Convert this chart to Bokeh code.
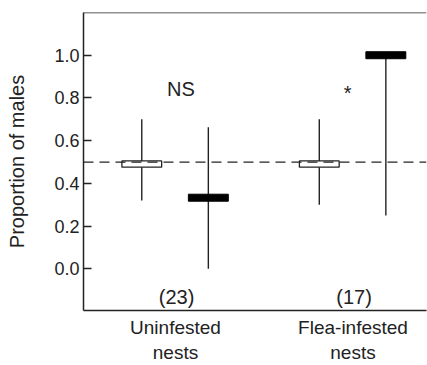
from bokeh.plotting import figure
from bokeh.models import FixedTicker, Span, Range1d, NumeralTickFormatter
from bokeh.core.properties import value
from bokeh.embed import file_html
from bokeh.resources import INLINE

# ---- data ----
groups = ["Uninfested\nnests", "Flea-infested\nnests"]
group_pos = [1, 2]
sample_sizes = ["(23)", "(17)"]
significance = ["NS", "*"]
# expected proportion (open box) with range
exp_box_lo = [0.476, 0.476]
exp_box_hi = [0.505, 0.505]
exp_lo = [0.32, 0.30]
exp_hi = [0.70, 0.70]
# observed proportion (black bar) with range
obs_mid = [0.333, 1.0]
obs_lo = [0.0, 0.25]
obs_hi = [0.663, 1.0]
y_ticks = [0.0, 0.2, 0.4, 0.6, 0.8, 1.0]
ref_line = 0.5

FONT = "Liberation Sans"
INK = "#222222"

off_exp, off_obs = -0.19, 0.185
xe = [g + off_exp for g in group_pos]
xo = [g + off_obs for g in group_pos]

p = figure(width=427, height=365, output_backend="svg", toolbar_location=None,
           x_range=Range1d(0.4817, 2.414), y_range=Range1d(-0.195, 1.2),
           min_border_left=83, min_border_top=12, min_border_right=1, min_border_bottom=55)
p.outline_line_color = None
p.grid.visible = False
p.background_fill_color = "white"

# axes
p.yaxis.ticker = FixedTicker(ticks=y_ticks)
p.yaxis.formatter = NumeralTickFormatter(format="0.0")
p.yaxis.major_tick_in = 8
p.yaxis.major_tick_out = 0
p.yaxis.minor_tick_line_color = None
p.yaxis.major_label_standoff = 4
p.yaxis.major_label_text_font = FONT
p.yaxis.major_label_text_font_size = "18px"
p.yaxis.major_label_text_color = INK
p.yaxis.major_tick_line_color = INK
p.yaxis.major_tick_line_width = 1.3
p.yaxis.axis_label = "Proportion of males"
p.yaxis.axis_label_text_font = FONT
p.yaxis.axis_label_text_font_size = "20px"
p.yaxis.axis_label_text_font_style = "normal"
p.yaxis.axis_label_text_color = INK
p.yaxis.axis_label_standoff = 23

p.xaxis.ticker = FixedTicker(ticks=group_pos)
p.xaxis.major_label_overrides = {g: lab for g, lab in zip(group_pos, groups)}
p.xaxis.major_tick_line_color = None
p.xaxis.minor_tick_line_color = None
p.xaxis.major_label_standoff = 0
p.xaxis.major_label_text_font = FONT
p.xaxis.major_label_text_font_size = "19px"
p.xaxis.major_label_text_color = INK

for ax in (p.xaxis, p.yaxis):
    ax.axis_line_color = INK
    ax.axis_line_width = 1.5

# top frame line
p.add_layout(Span(location=1.2, dimension="width", line_color=INK, line_width=1.5))
# reference line
p.add_layout(Span(location=ref_line, dimension="width", line_color=INK,
                  line_width=1.3, line_dash="10 6"))

# whiskers
p.segment(x0=xe, y0=exp_lo, x1=xe, y1=exp_hi, line_color=INK, line_width=1.4)
p.segment(x0=xo, y0=obs_lo, x1=xo, y1=obs_hi, line_color=INK, line_width=1.4)

# open boxes
p.quad(left=[x - 0.112 for x in xe], right=[x + 0.112 for x in xe],
       bottom=exp_box_lo, top=exp_box_hi,
       fill_color="white", line_color=INK, line_width=1.3)
# black bars
p.rect(x=xo, y=obs_mid, width=0.225, height=7, height_units="screen",
       fill_color="black", line_color="black")

# texts
p.text(x=[g + 0.006 for g in group_pos], y=[-0.13, -0.13], text=sample_sizes,
       text_align="center", text_baseline="middle",
       text_font=value(FONT), text_font_size="20px", text_color=INK)
p.text(x=[1.03], y=[0.843], text=[significance[0]],
       text_align="center", text_baseline="middle",
       text_font=value(FONT), text_font_size="20px", text_color=INK)
p.text(x=[1.97], y=[0.825], text=[significance[1]],
       text_align="center", text_baseline="middle",
       text_font=value(FONT), text_font_size="20px", text_color=INK)

open("out.html", "w").write(file_html(p, INLINE))
